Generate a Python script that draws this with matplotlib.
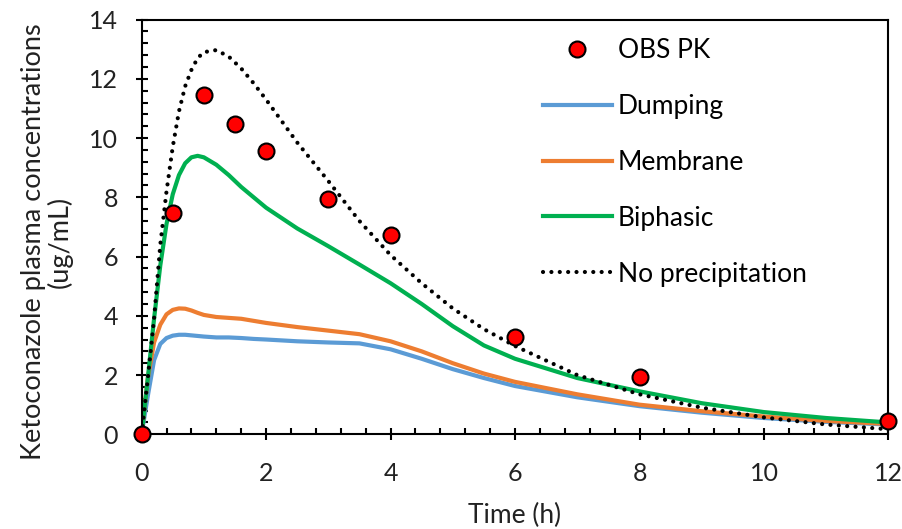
import numpy as np
import matplotlib
matplotlib.use("Agg")
import matplotlib.pyplot as plt
from matplotlib.ticker import MultipleLocator

plt.rcParams['font.family'] = ['Lato', 'DejaVu Sans']

# observed PK points
obs_t = [0, 0.5, 1, 1.5, 2, 3, 4, 6, 8, 12]
obs_c = [0, 7.48, 11.46, 10.47, 9.58, 7.95, 6.73, 3.29, 1.94, 0.45]

# simulated profiles
sim_t = [0, 0.1, 0.2, 0.3, 0.4, 0.5, 0.6, 0.7, 0.8, 0.9, 1.0, 1.2, 1.4, 1.6, 1.8,
         2.0, 2.5, 3.0, 3.5, 4.0, 4.5, 5.0, 5.5, 6.0, 7.0, 8.0, 9.0, 10.0, 11.0, 12.0]
dumping = [0, 1.3, 2.5, 3.05, 3.25, 3.33, 3.36, 3.36, 3.34, 3.32, 3.3, 3.27, 3.27, 3.25, 3.22,
           3.2, 3.14, 3.1, 3.07, 2.87, 2.55, 2.2, 1.9, 1.63, 1.25, 0.95, 0.73, 0.55, 0.42, 0.33]
membrane = [0, 1.9, 3.1, 3.7, 4.05, 4.2, 4.25, 4.24, 4.18, 4.1, 4.03, 3.96, 3.93, 3.9, 3.83,
            3.76, 3.62, 3.5, 3.38, 3.14, 2.8, 2.4, 2.05, 1.77, 1.35, 1.0, 0.78, 0.6, 0.45, 0.35]
biphasic = [0, 1.9, 3.9, 5.7, 7.1, 8.1, 8.75, 9.15, 9.35, 9.4, 9.35, 9.1, 8.75, 8.35, 8.0,
            7.65, 6.95, 6.35, 5.73, 5.1, 4.4, 3.65, 3.0, 2.55, 1.9, 1.45, 1.05, 0.75, 0.55, 0.4]
no_precip = [0, 1.9, 3.9, 6.4, 8.2, 9.7, 10.9, 11.75, 12.3, 12.7, 12.9, 12.97, 12.75, 12.35, 11.85,
             11.3, 9.85, 8.55, 7.2, 6.05, 5.1, 4.25, 3.55, 2.98, 2.0, 1.35, 0.9, 0.57, 0.33, 0.17]

fig = plt.figure(figsize=(9.02, 5.29), dpi=100)
ax = fig.add_axes([0.157, 0.179, 0.828, 0.784])

ax.plot(obs_t, obs_c, 'o', color='#FF0000', markeredgecolor='black', markeredgewidth=1.5,
        markersize=11.5, label='OBS PK', clip_on=False, zorder=5)
ax.plot(sim_t, dumping, color='#5B9BD5', lw=3, label='Dumping')
ax.plot(sim_t, membrane, color='#ED7D31', lw=3, label='Membrane')
ax.plot(sim_t, biphasic, color='#00B050', lw=3, label='Biphasic')
ax.plot(sim_t, no_precip, color='black', lw=3, linestyle=(0, (0.01, 2.0)),
        dash_capstyle='round', label='No precipitation')

ax.set_xlim(0, 12)
ax.set_ylim(0, 14)
ax.xaxis.set_major_locator(MultipleLocator(2))
ax.xaxis.set_minor_locator(MultipleLocator(0.4))
ax.yaxis.set_major_locator(MultipleLocator(2))
ax.yaxis.set_minor_locator(MultipleLocator(0.4))
ax.tick_params(which='major', direction='inout', length=8, width=1.5, labelsize=18,
               colors='black', labelcolor='#222222')
ax.tick_params(axis='x', which='major', pad=16)
ax.tick_params(axis='y', which='major', pad=13)
ax.tick_params(which='minor', direction='in', length=4, width=1.5)
for s in ax.spines.values():
    s.set_linewidth(1.5)

ax.set_xlabel('Time (h)', fontsize=19, color='#222222', labelpad=13)
ax.set_ylabel('Ketoconazole plasma concentrations\n(ug/mL)', fontsize=19.5,
              color='#222222', labelpad=12, linespacing=1.0)
ax.yaxis.label.set_y(0.464)

ax.legend(loc='upper left', bbox_to_anchor=(0.602, 0.928), bbox_transform=fig.transFigure,
          frameon=False, fontsize=19, handlelength=2.6, handletextpad=0.23,
          labelspacing=1.17, borderpad=0, borderaxespad=0, markerscale=1.0)

fig.savefig('out.png', dpi=100)
